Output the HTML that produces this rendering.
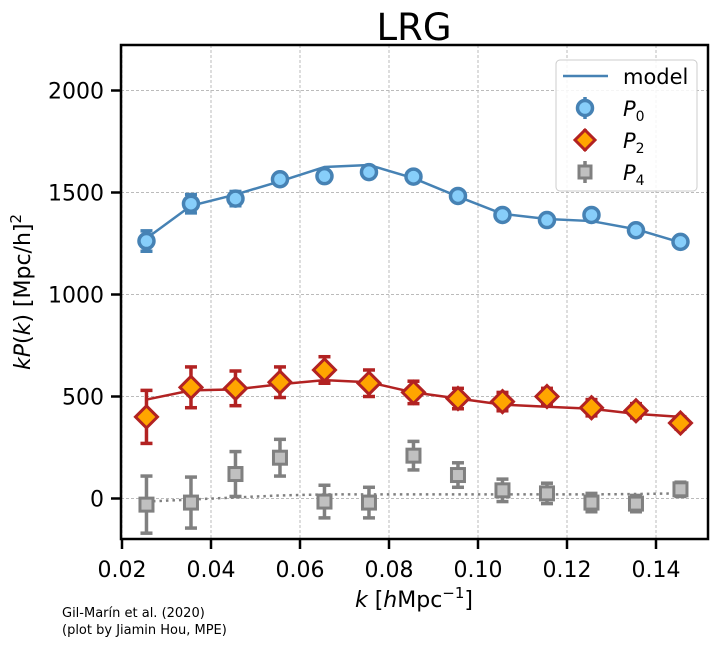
<!DOCTYPE html>
<html><head><meta charset="utf-8"><style>
body{margin:0;background:#fff;font-family:"Liberation Sans","DejaVu Sans",sans-serif}
</style></head><body>
<svg width="725" height="649" viewBox="0 0 725 649" font-family="DejaVu Sans, Liberation Sans, sans-serif">
<text x="414" y="40" font-size="37" text-anchor="middle">LRG</text>
<g id="grid"></g>
<g id="marks"></g>
<rect x="121" y="45" width="587" height="494" fill="none" stroke="#000" stroke-width="2.5"/>
<g id="axes"></g>
<text transform="translate(30,292) rotate(-90)" font-size="22" text-anchor="middle"><tspan font-style="italic">kP</tspan>(<tspan font-style="italic">k</tspan>) [Mpc/h]<tspan font-size="15" dy="-9">2</tspan></text>
<text x="414" y="607" font-size="22" text-anchor="middle"><tspan font-style="italic">k</tspan> [<tspan font-style="italic">h</tspan>Mpc<tspan font-size="15" dy="-9">−1</tspan><tspan dy="9">]</tspan></text>
<text x="62" y="617" font-size="13">Gil-Marín et al. (2020)</text>
<text x="62" y="634" font-size="13">(plot by Jiamin Hou, MPE)</text>
<g>
<rect x="556" y="60" width="141" height="131" rx="4" fill="#fff" fill-opacity="0.85" stroke="#ccc"/>
<line x1="563" y1="76" x2="608" y2="76" stroke="#4682b4" stroke-width="2.5"/>
<text x="623" y="84" font-size="21">model</text>
<g><line x1="585" y1="97" x2="585" y2="119" stroke="#4682b4" stroke-width="3.5"/><circle cx="585" cy="108" r="7.5" fill="#87cefa" stroke="#4682b4" stroke-width="3.5"/></g>
<text x="623" y="116" font-size="21" font-style="italic">P<tspan font-size="14" dy="5" font-style="normal">0</tspan></text>
<g><line x1="585" y1="129" x2="585" y2="151" stroke="#b22222" stroke-width="3.5"/><path d="M585 130 L595 140 L585 150 L575 140Z" fill="orange" stroke="#b22222" stroke-width="3"/></g>
<text x="623" y="148" font-size="21" font-style="italic">P<tspan font-size="14" dy="5" font-style="normal">2</tspan></text>
<g><line x1="585" y1="161" x2="585" y2="183" stroke="#808080" stroke-width="3.5"/><rect x="579" y="166" width="12" height="12" fill="#c0c0c0" stroke="#808080" stroke-width="3"/></g>
<text x="623" y="180" font-size="21" font-style="italic">P<tspan font-size="14" dy="5" font-style="normal">4</tspan></text>
</g>
</svg>
<script>
const kvals=[0.0255,0.0355,0.0455,0.0555,0.0655,0.0755,0.0855,0.0955,0.1055,0.1155,0.1255,0.1355,0.1455];
const p0=[1262,1445,1470,1565,1580,1600,1578,1483,1390,1365,1390,1315,1258];
const p0err=[50,45,35,25,25,20,20,20,15,15,15,15,15];
const p0model=[1275,1435,1490,1555,1625,1635,1570,1480,1395,1370,1360,1320,1255];
const p2=[400,545,540,570,630,565,520,490,475,500,445,430,370];
const p2err=[130,100,85,75,65,65,55,50,45,40,40,35,30];
const p2model=[485,530,535,560,580,570,520,490,460,450,440,415,400];
const p4=[-30,-20,120,200,-15,-20,210,115,40,25,-20,-25,45];
const p4err=[140,125,110,90,80,75,70,60,55,50,45,40,35];
const p4model=[-15,-5,5,15,20,20,20,20,20,20,20,22,25];
const xticks=[0.02,0.04,0.06,0.08,0.10,0.12,0.14];
const yticks=[0,500,1000,1500,2000];
const X=k=>122+(k-0.02)*4450;
const Y=v=>498.5-v*0.204;
const NS='http://www.w3.org/2000/svg';
function mk(p,tag,at){const e=document.createElementNS(NS,tag);for(const a in at)e.setAttribute(a,at[a]);p.appendChild(e);return e;}
const grid=document.getElementById('grid'),axes=document.getElementById('axes'),marks=document.getElementById('marks');
xticks.forEach(t=>{
 const gl=mk(grid,'line',{x1:X(t),x2:X(t),y1:45,y2:539,stroke:'#bbb','stroke-dasharray':'3,2','stroke-width':1});
 
 
 const tk=mk(axes,'line',{x1:X(t),x2:X(t),y1:539,y2:549,stroke:'#000','stroke-width':2.5});
 
 
 const tx=mk(axes,'text',{x:X(t),y:577,'font-size':22,'text-anchor':'middle'});tx.textContent=t.toFixed(2);
 
 
});
yticks.forEach(t=>{
 const gl=mk(grid,'line',{x1:121,x2:708,y1:Y(t),y2:Y(t),stroke:'#bbb','stroke-dasharray':'3,2','stroke-width':1});
 
 
 const tk=mk(axes,'line',{x1:111,x2:121,y1:Y(t),y2:Y(t),stroke:'#000','stroke-width':2.5});
 
 
 const tx=mk(axes,'text',{x:104,y:Y(t)+8,'font-size':22,'text-anchor':'end'});tx.textContent=t;
 
 
});
function line(vals,color,dash,w,name){
 const d=vals.map((v,i)=>(i?'L':'M')+X(kvals[i])+' '+Y(v)).join(' ');
 const p=mk(marks,'path',{d:d,fill:'none',stroke:color,'stroke-width':w,'stroke-dasharray':dash||'none'});
 
 
}
function pts(vals,errs,ec,fc,shape,name){
 vals.forEach((v,i)=>{
  const g=mk(marks,'g',{});
  
  
  const x=X(kvals[i]),y1=Y(v+errs[i]),y2=Y(v-errs[i]),y=Y(v);
  mk(g,'line',{x1:x,x2:x,y1:y1,y2:y2,stroke:ec,'stroke-width':3.5});
  mk(g,'line',{x1:x-6,x2:x+6,y1:y1,y2:y1,stroke:ec,'stroke-width':3.5});
  mk(g,'line',{x1:x-6,x2:x+6,y1:y2,y2:y2,stroke:ec,'stroke-width':3.5});
  if(shape==='c')mk(g,'circle',{cx:x,cy:y,r:7.5,fill:fc,stroke:ec,'stroke-width':3.5});
  else if(shape==='d')mk(g,'path',{d:`M${x} ${y-11} L${x+11} ${y} L${x} ${y+11} L${x-11} ${y}Z`,fill:fc,stroke:ec,'stroke-width':3});
  else mk(g,'rect',{x:x-6.5,y:y-6.5,width:13,height:13,fill:fc,stroke:ec,'stroke-width':3});
 });
}
line(p4model,'#808080','2.5,4',2.5,'p4-model-line');
line(p2model,'#b22222',null,2.5,'p2-model-line');
line(p0model,'#4682b4',null,2.5,'p0-model-line');
pts(p4,p4err,'#808080','#c0c0c0','s','p4-point');
pts(p2,p2err,'#b22222','orange','d','p2-point');
pts(p0,p0err,'#4682b4','#87cefa','c','p0-point');
</script>
</body></html>
